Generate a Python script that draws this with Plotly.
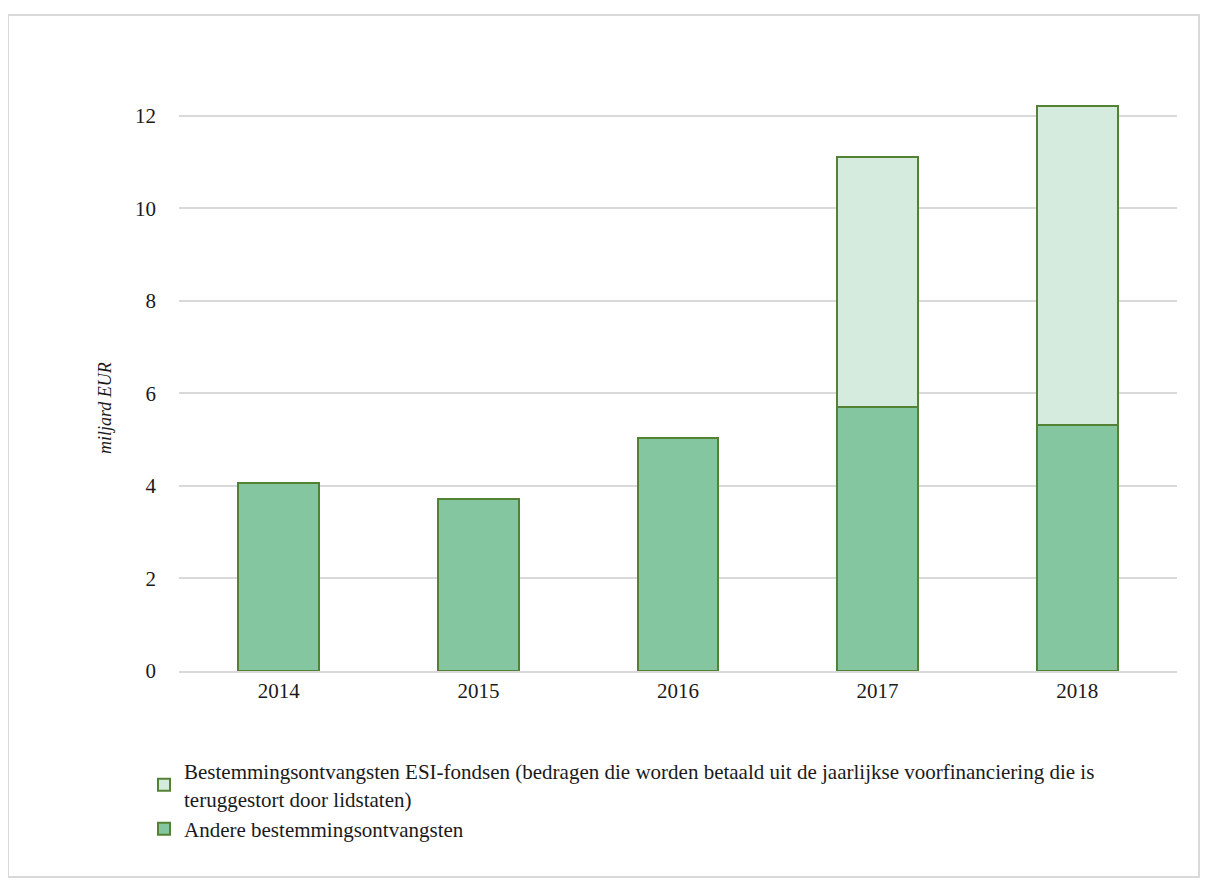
import plotly.graph_objects as go

years = ["2014", "2015", "2016", "2017", "2018"]
andere = [4.07, 3.72, 5.04, 5.71, 5.32]
esi = [0, 0, 0, 5.40, 6.90]
yticks = [0, 2, 4, 6, 8, 10, 12]

name_esi = ("Bestemmingsontvangsten ESI-fondsen (bedragen die worden betaald uit de jaarlijkse voorfinanciering die is"
            "<br>teruggestort door lidstaten)")
name_andere = "Andere bestemmingsontvangsten"
ytitle = "miljard EUR"

OFF = 8  # page body margin
W, H = 1209 - OFF, 888 - OFF
L, R, T, B = 179 - OFF, 32, 47 - OFF, 217
pw, ph = W - L - R, H - T - B

def px(x):  # reference screen x -> paper
    return (x - OFF - L) / pw

def py(y):  # reference screen y -> paper
    return (H - B - (y - OFF)) / ph

fig = go.Figure()
fig.add_trace(go.Bar(x=years, y=andere, name=name_andere,
                     marker=dict(color="#83C69F", line=dict(color="#548235", width=2))))
fig.add_trace(go.Bar(x=years, y=esi, name=name_esi,
                     marker=dict(color="#D5EBDD", line=dict(color="#548235", width=2))))

fig.update_layout(
    width=W, height=H,
    margin=dict(l=L, r=R, t=T, b=B),
    barmode="stack", bargap=0.595,
    plot_bgcolor="white", paper_bgcolor="white",
    font=dict(family="Liberation Serif, Times New Roman, serif", color="#1a1a1a", size=21),
    xaxis=dict(showline=True, linecolor="#d9d9d9", linewidth=1.5, ticks="",
               tickfont=dict(size=21), ticklabelstandoff=0),
    yaxis=dict(range=[0, 13.49], tickvals=yticks, showgrid=True, gridcolor="#d9d9d9",
               gridwidth=1.5, zeroline=False, ticks="", tickfont=dict(size=21),
               ticklabelstandoff=22),
    legend=dict(x=px(144), y=py(751), xanchor="left", yanchor="top",
                traceorder="reversed", orientation="v",
                font=dict(size=21), tracegroupgap=15, itemwidth=30,
                bgcolor="rgba(0,0,0,0)"),
    annotations=[dict(text="<i>" + ytitle + "</i>", xref="paper", yref="paper",
                      x=px(105), y=py(408), xanchor="center", yanchor="middle",
                      textangle=-90, showarrow=False, font=dict(size=18))],
    shapes=[dict(type="rect", xref="paper", yref="paper",
                 x0=px(8), x1=px(1199), y0=py(877), y1=py(15),
                 line=dict(color="#d9d9d9", width=2), fillcolor="rgba(0,0,0,0)", layer="below")],
)

fig.write_html("out.html")
